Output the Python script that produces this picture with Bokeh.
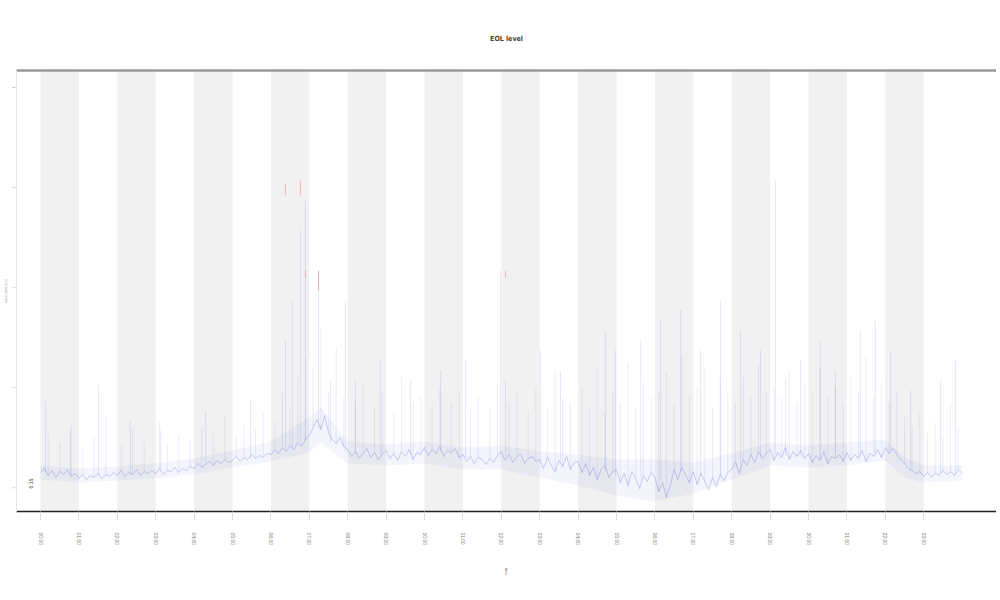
from bokeh.plotting import figure
from bokeh.models import FixedTicker, LinearAxis, Range1d
from bokeh.core.properties import value
from bokeh.embed import file_html
from bokeh.resources import INLINE

# ---------------- data ----------------
title_text = "EOL level"
x_label = "time"
y_label = "signal_value (a.u.)"

x_ticks = list(range(24))
x_tick_labels = ["%02d:00" % h for h in range(24)]
y_ticks = [0, 1, 2, 3, 4]
y_tick_labels = ["0", "1", "2", "3", "4"]

main_t = [i / 10 for i in range(241)]
main_v = [
    0.15, 0.19, 0.12, 0.17, 0.10, 0.16, 0.13, 0.18, 0.11, 0.14,
    0.09, 0.13, 0.08, 0.12, 0.10, 0.14, 0.09, 0.13, 0.11, 0.15,
    0.12, 0.17, 0.11, 0.15, 0.13, 0.18, 0.12, 0.16, 0.14, 0.17,
    0.14, 0.19, 0.13, 0.17, 0.16, 0.20, 0.15, 0.19, 0.17, 0.21,
    0.19, 0.24, 0.20, 0.23, 0.26, 0.22, 0.27, 0.24, 0.28, 0.25,
    0.27, 0.31, 0.26, 0.30, 0.28, 0.33, 0.29, 0.32, 0.30, 0.34,
    0.33, 0.38, 0.34, 0.40, 0.36, 0.42, 0.38, 0.45, 0.41, 0.48,
    0.52, 0.60, 0.68, 0.58, 0.72, 0.55, 0.48, 0.44, 0.50, 0.41,
    0.38, 0.31, 0.36, 0.29, 0.34, 0.39, 0.30, 0.35, 0.28, 0.33,
    0.37, 0.29, 0.34, 0.27, 0.36, 0.31, 0.38, 0.28, 0.35, 0.33,
    0.40, 0.32, 0.38, 0.34, 0.41, 0.31, 0.37, 0.35, 0.39, 0.30,
    0.33, 0.26, 0.31, 0.24, 0.30, 0.28, 0.23, 0.29, 0.25, 0.32,
    0.36, 0.27, 0.33, 0.25, 0.30, 0.34, 0.24, 0.29, 0.31, 0.26,
    0.28, 0.19, 0.30, 0.22, 0.16, 0.27, 0.21, 0.31, 0.18, 0.25,
    0.26, 0.15, 0.24, 0.12, 0.20, 0.08, 0.18, 0.22, 0.10, 0.16,
    0.18, 0.05, 0.14, 0.02, 0.16, 0.09, -0.01, 0.12, 0.06, 0.15,
    0.10, -0.04, 0.05, -0.10, 0.02, 0.18, 0.08, 0.20, 0.12, 0.05,
    0.16, 0.03, 0.14, 0.06, -0.02, 0.10, 0.01, 0.13, 0.07, 0.15,
    0.18, 0.26, 0.14, 0.28, 0.22, 0.33, 0.25, 0.36, 0.29, 0.34,
    0.38, 0.27, 0.35, 0.30, 0.40, 0.28, 0.36, 0.31, 0.37, 0.29,
    0.34, 0.25, 0.32, 0.27, 0.36, 0.24, 0.31, 0.29, 0.33, 0.26,
    0.35, 0.27, 0.33, 0.29, 0.37, 0.26, 0.34, 0.31, 0.38, 0.30,
    0.40, 0.34, 0.39, 0.33, 0.28, 0.24, 0.19, 0.17, 0.14, 0.16,
    0.11, 0.15, 0.10, 0.14, 0.12, 0.17, 0.13, 0.16, 0.12, 0.18,
    0.14,
]

env_t = [0, 1, 2, 3, 4, 5, 6, 7, 7.3, 8, 9, 10, 11, 12, 13, 14, 15, 16, 17, 18,
         19, 20, 21, 22, 22.5, 23, 24]
env_lo = [0.08, 0.05, 0.07, 0.09, 0.13, 0.20, 0.26, 0.35, 0.45, 0.24, 0.22, 0.24,
          0.18, 0.18, 0.10, 0.02, -0.08, -0.14, -0.06, 0.08, 0.22, 0.20, 0.22,
          0.27, 0.10, 0.05, 0.07]
env_hi = [0.22, 0.19, 0.21, 0.24, 0.29, 0.37, 0.46, 0.70, 0.80, 0.46, 0.43, 0.46,
          0.40, 0.42, 0.36, 0.33, 0.28, 0.28, 0.25, 0.34, 0.45, 0.42, 0.45,
          0.48, 0.30, 0.22, 0.22]

# tall spikes
spike_t = [0.13, 0.78, 1.51, 2.34, 3.13, 4.30, 5.47, 6.38, 6.56, 6.77, 6.90, 7.24,
           7.55, 7.94, 8.20, 8.85, 9.64, 10.42, 11.07, 11.98, 12.11, 13.02, 13.54,
           14.71, 14.97, 15.63, 16.15, 16.67, 17.19, 17.71, 18.23, 18.75, 19.14,
           19.40, 19.79, 20.31, 20.70, 21.35, 21.74, 22.14, 22.66, 23.44, 23.83]
spike_base = [0.15, 0.13, 0.11, 0.14, 0.16, 0.24, 0.30, 0.38, 0.39, 0.42, 0.47, 0.60,
              0.45, 0.36, 0.34, 0.32, 0.33, 0.36, 0.30, 0.30, 0.31, 0.24, 0.25,
              0.16, 0.12, 0.10, 0.06, 0.15, 0.11, 0.10, 0.22, 0.30, 0.33,
              0.32, 0.31, 0.29, 0.30, 0.32, 0.34, 0.36, 0.16, 0.15, 0.14]
spike_top = [0.87, 0.57, 1.02, 0.67, 0.57, 0.77, 0.87, 1.47, 1.87, 2.57, 2.87, 2.17,
             1.07, 1.87, 1.07, 1.27, 1.07, 1.17, 1.27, 2.17, 1.07, 1.37, 1.17,
             1.57, 1.37, 1.47, 1.67, 1.77, 1.37, 1.87, 1.57, 1.37, 3.07,
             1.07, 1.27, 1.47, 1.17, 1.57, 1.67, 1.37, 0.97, 1.07, 1.27]

# smaller spikes, anchored on samples of the main series
minor_idx = [2, 5, 8, 11, 14, 17, 21, 24, 27, 31, 33, 36, 39, 42, 45, 48, 51, 53,
             56, 58, 61, 63, 65, 67, 69, 71, 73, 75, 77, 79, 82, 84, 87, 89, 92,
             94, 97, 99, 102, 104, 107, 109, 112, 114, 117, 119, 122, 124, 127,
             129, 132, 134, 136, 138, 141, 143, 145, 147, 149, 151, 153, 155, 157,
             159, 161, 163, 165, 167, 169, 171, 173, 175, 177, 179, 181, 183, 185,
             187, 189, 191, 193, 195, 197, 199, 201, 203, 205, 207, 209, 211, 213,
             215, 217, 219, 221, 223, 225, 227, 229, 231, 233, 235, 237, 239]
minor_top = [0.55, 0.45, 0.62, 0.40, 0.50, 0.72, 0.42, 0.58, 0.47, 0.66, 0.44, 0.52,
             0.48, 0.60, 0.55, 0.70, 0.50, 0.62, 0.58, 0.75, 0.66, 0.95, 0.80, 1.10,
             1.30, 1.20, 1.60, 0.95, 1.40, 0.90, 0.85, 1.05, 0.80, 0.95, 0.75, 1.10,
             0.85, 0.90, 0.80, 1.00, 0.85, 0.95, 0.75, 0.90, 0.80, 1.05, 0.85, 0.95,
             0.75, 1.00, 0.80, 1.15, 0.90, 0.85, 1.00, 0.80, 1.20, 0.75, 0.95, 0.85,
             1.25, 0.80, 1.05, 0.90, 0.95, 1.15, 0.85, 1.30, 0.90, 1.00, 1.20, 0.80,
             1.10, 0.95, 0.85, 1.10, 0.90, 1.25, 0.95, 1.00, 0.90, 1.15, 0.85, 1.05,
             0.95, 1.20, 0.90, 1.00, 0.85, 1.10, 0.95, 1.30, 0.90, 1.05, 0.85, 0.95,
             0.70, 0.60, 0.75, 0.55, 0.65, 0.50, 0.85, 0.60]

red_t = [6.38, 6.77, 6.90, 7.24, 12.11]
red_lo = [2.92, 2.92, 2.10, 1.97, 2.10]
red_hi = [3.04, 3.07, 2.17, 2.17, 2.17]

start_label = "0.15"
start_label_t = -0.26
start_label_v = 0.04

# ---------------- figure ----------------
W, H = 996, 596
FL, FT, FB = 16, 70, 511          # frame left / top / bottom on the page
p = figure(width=W, height=H, output_backend="svg", toolbar_location=None,
           min_border_left=FL, min_border_right=0, min_border_top=FT,
           min_border_bottom=H - FB, background_fill_color="white",
           border_fill_color="white")
px_per_unit = 38.4
p.x_range = Range1d((FL - 40) / px_per_unit, (W - 40) / px_per_unit)
p.y_range = Range1d(-0.24, 4.17)

p.title.text = title_text
p.title.align = "center"
p.title.text_font = "DejaVu Sans Condensed"
p.title.text_font_size = "7px"
p.title.text_font_style = "bold"
p.title.text_color = "#444444"
p.title.standoff = 55

p.outline_line_color = None
p.xgrid.grid_line_color = None
p.ygrid.grid_line_color = None

# alternating bands
band_left = x_ticks[0::2]
band_right = [t + 1 for t in band_left]
p.quad(left=band_left, right=band_right, bottom=-0.24, top=4.17,
       fill_color="#f1f1f1", line_color=None)

# envelope + series
p.varea(x=env_t, y1=env_lo, y2=env_hi, fill_color="#7070e0", fill_alpha=0.08)
minor_t = [main_t[i] for i in minor_idx]
minor_base = [main_v[i] for i in minor_idx]
p.segment(x0=minor_t, y0=minor_base, x1=minor_t, y1=minor_top,
          line_color="#7070e8", line_alpha=0.22, line_width=0.6)
p.segment(x0=spike_t, y0=spike_base, x1=spike_t, y1=spike_top,
          line_color="#6060e0", line_alpha=0.22, line_width=0.7)
p.line(main_t, main_v, line_color="#3030d0", line_alpha=0.38, line_width=0.6)
p.segment(x0=red_t, y0=red_lo, x1=red_t, y1=red_hi,
          line_color="#ff3030", line_alpha=0.3, line_width=1)

p.text(x=[start_label_t], y=[start_label_v], text=[start_label], angle=1.5708,
       text_font=value("DejaVu Sans Condensed"), text_font_size="5px",
       text_color="#333333", text_align="center", text_baseline="middle")

# x axis
xa = p.xaxis[0]
xa.ticker = FixedTicker(ticks=x_ticks)
xa.major_label_overrides = {t: l for t, l in zip(x_ticks, x_tick_labels)}
xa.major_label_orientation = "vertical"
xa.major_label_text_font_size = "5px"
xa.major_label_text_color = "#777777"
xa.major_label_standoff = 12
xa.major_tick_out = 9
xa.major_tick_in = 0
xa.major_tick_line_color = "#dddddd"
xa.minor_tick_line_color = None
xa.axis_line_color = "#222222"
xa.axis_line_width = 1.5
xa.axis_label = x_label
xa.axis_label_text_font_size = "4px"
xa.axis_label_text_font_style = "normal"
xa.axis_label_text_color = "#777777"
xa.axis_label_standoff = 20
xa.axis_label_orientation = "vertical"

# y axis
ya = p.yaxis[0]
ya.ticker = FixedTicker(ticks=y_ticks)
ya.major_label_overrides = {t: l for t, l in zip(y_ticks, y_tick_labels)}
ya.major_label_orientation = "vertical"
ya.major_label_text_font_size = "3px"
ya.major_label_text_color = "#aaaaaa"
ya.major_label_standoff = 1
ya.major_tick_out = 1
ya.major_tick_in = 0
ya.major_tick_line_color = "#dddddd"
ya.minor_tick_line_color = None
ya.axis_line_color = "#e6e6e6"
ya.axis_label = y_label
ya.axis_label_text_font_size = "3px"
ya.axis_label_text_font_style = "normal"
ya.axis_label_text_color = "#aaaaaa"
ya.axis_label_standoff = 1

# top border line
top = LinearAxis(ticker=FixedTicker(ticks=[]), axis_line_color="#999999",
                 axis_line_width=2.5, major_label_text_font_size="0px",
                 major_tick_line_color=None, minor_tick_line_color=None)
p.add_layout(top, "above")

open("out.html", "w").write(file_html(p, INLINE))
